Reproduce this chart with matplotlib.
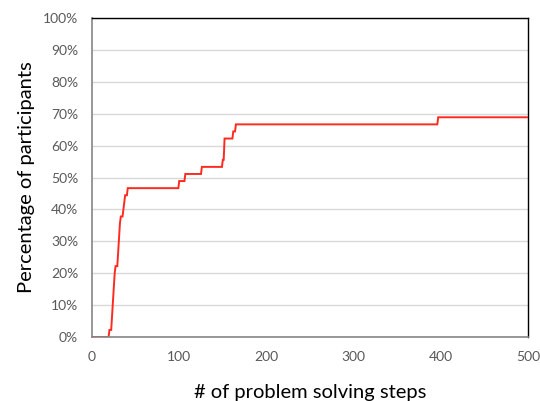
import numpy as np
import matplotlib
matplotlib.use("Agg")
import matplotlib.pyplot as plt
from matplotlib.ticker import PercentFormatter

# Number of problem-solving steps at which each successful participant finished
completion_steps = [
    20,
    23, 23, 24, 24, 25, 25, 26, 26, 27,
    30, 30, 31, 31, 32, 32, 33,
    36, 37, 38,
    41,
    100, 107, 126,
    150, 152, 152, 152,
    162, 165,
    397,
]
n_participants = 45
step_axis = np.arange(0, 501)
x_ticks = [0, 100, 200, 300, 400, 500]
y_ticks = np.arange(0, 101, 10)

# Cumulative share of participants done by each step count
done = np.array([np.sum(np.array(completion_steps) <= s) for s in step_axis])
pct = done / n_participants * 100

plt.rcParams["font.family"] = ["Lato", "DejaVu Sans"]

fig = plt.figure(figsize=(5.40, 4.01), dpi=100)
ax = fig.add_axes([0.1704, 0.1596, 0.8074, 0.7954])

ax.plot(step_axis, pct, color="#FF2A1F", linewidth=1.4, solid_joinstyle="miter", zorder=3)

ax.set_xlim(0, 500)
ax.set_ylim(0, 100)
ax.set_xticks(x_ticks)
ax.set_yticks(y_ticks)
ax.yaxis.set_major_formatter(PercentFormatter(decimals=0))

ax.grid(axis="y", color="#D9D9D9", linewidth=1.0, zorder=0)
ax.set_axisbelow(True)

ax.tick_params(axis="both", length=0, labelsize=10, labelcolor="#595959")
ax.tick_params(axis="y", pad=10)
ax.tick_params(axis="x", pad=10)

for side in ("left", "bottom"):
    ax.spines[side].set_color("#868686")
    ax.spines[side].set_linewidth(1.2)
for side in ("top", "right"):
    ax.spines[side].set_color("#000000")
    ax.spines[side].set_linewidth(1.0)
ax.spines["bottom"].set_zorder(4)

ax.set_xlabel("# of problem solving steps", fontsize=14.5, labelpad=15)
ax.set_ylabel("Percentage of participants", fontsize=14.5, labelpad=6)

fig.savefig("out.png", dpi=100)
